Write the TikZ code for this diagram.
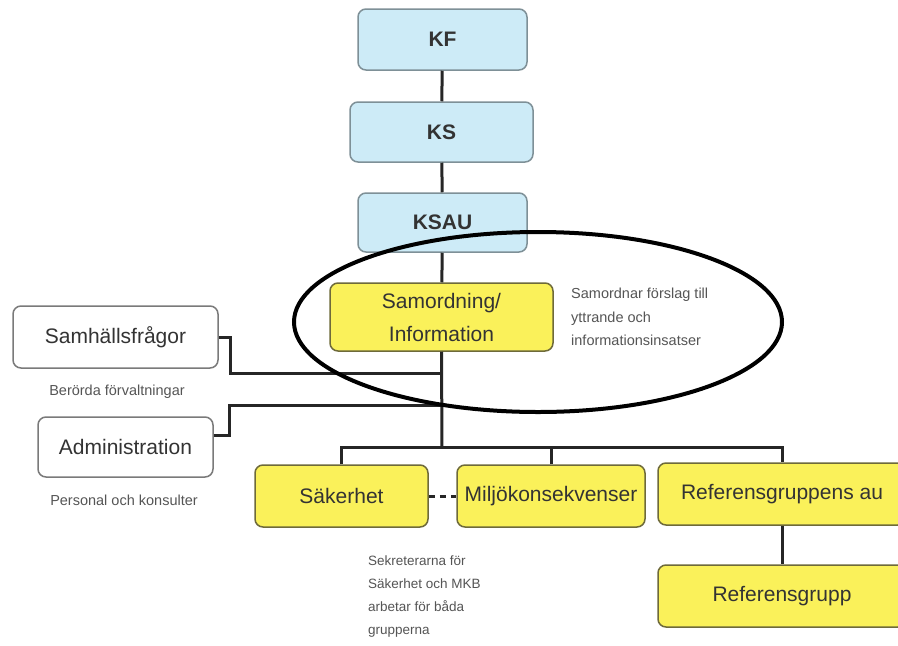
\documentclass[tikz,border=0pt]{standalone}
\usepackage{fontspec}
\setmainfont{Liberation Sans}
\usetikzlibrary{calc}
\definecolor{bluefill}{HTML}{CDEBF7}
\definecolor{blueline}{HTML}{7E9097}
\definecolor{yelfill}{HTML}{FAF15A}
\definecolor{yelline}{HTML}{6E6A3A}
\definecolor{wline}{HTML}{7A7A7A}
\definecolor{txt}{HTML}{333333}
\definecolor{linec}{HTML}{262626}
\definecolor{note}{HTML}{555555}
\begin{document}
\begin{tikzpicture}[x=1pt,y=-1pt,
 box/.style={rounded corners=8pt, line width=1.5pt, text=txt, font=\fontsize{21}{26}\selectfont, inner sep=0pt, align=center},
 bluebox/.style={box, fill=bluefill, draw=blueline, font=\fontsize{21}{26}\selectfont\bfseries},
 yelbox/.style={box, fill=yelfill, draw=yelline},
 whitebox/.style={box, fill=white, draw=wline},
 conn/.style={line width=3pt, draw=linec},
 notetext/.style={text=note, font=\fontsize{14.5}{23.5}\selectfont, inner sep=0pt, align=left}]
\useasboundingbox[fill=white] (0,0) rectangle (898,646);

% top column
\node[bluebox, minimum width=169pt, minimum height=61pt] (kf) at (442.5,39.5) {KF};
\node[bluebox, minimum width=183pt, minimum height=60pt] (ks) at (441.5,132) {KS};
\node[bluebox, minimum width=169pt, minimum height=59pt] (ksau) at (442.5,222.5) {KSAU};
\node[yelbox, minimum width=223pt, minimum height=68pt, font=\fontsize{21}{33}\selectfont] (samo) at (441.5,317) {Samordning/\\Information};

% side boxes
\node[whitebox, minimum width=205pt, minimum height=62pt] (sam) at (115.5,337) {Samhällsfrågor};
\node[whitebox, minimum width=175pt, minimum height=60pt] (adm) at (125.5,447) {Administration};

% bottom boxes
\node[yelbox, minimum width=173pt, minimum height=62pt] (sak) at (341.5,496) {Säkerhet};
\node[yelbox, minimum width=188pt, minimum height=62pt] (mil) at (551,496) {Miljökonsekvenser};
\node[yelbox, minimum width=248pt, minimum height=62pt] (refau) at (782,494) {Referensgruppens au};
\node[yelbox, minimum width=248pt, minimum height=62pt] (refg) at (782,596) {Referensgrupp};

% notes
\node[notetext] (n1) at (117,392) {Berörda förvaltningar};
\node[notetext] (n2) at (124,500) {Personal och konsulter};
\node[notetext, anchor=north west] (n3) at (571,288) {Samordnar förslag till\\yttrande och\\informationsinsatser};
\node[notetext, anchor=north west, font=\fontsize{13.5}{23}\selectfont] (n4) at (368,556) {Sekreterarna för\\Säkerhet och MKB\\arbetar för båda\\grupperna};

% connectors
\coordinate (bus) at (442,447);
\coordinate (j1) at (442,373);
\coordinate (j2) at (442,405);
\draw[conn] (kf) -- (ks);
\draw[conn] (ks) -- (ksau);
\draw[conn] (ksau) -- (samo);
\draw[conn] (samo.south) -- (bus);
\draw[conn] (sak.north) -- (sak.north |- bus) -- (refau.north |- bus) -- (refau.north);
\draw[conn] (mil.north) -- (mil.north |- bus);
\draw[conn] (refau.south) -- (refg.north);
\draw[conn, dash pattern=on 6pt off 5pt] (sak.east) -- (mil.west);
\draw[conn] (sam.east) -- ++(12,0) |- (j1);
\draw[conn] ([yshift=12pt]adm.east) -- ++(16,0) |- (j2);

% ellipse highlight
\draw[line width=4pt, black] (538,322) ellipse [x radius=244pt, y radius=90pt];
\end{tikzpicture}
\end{document}
